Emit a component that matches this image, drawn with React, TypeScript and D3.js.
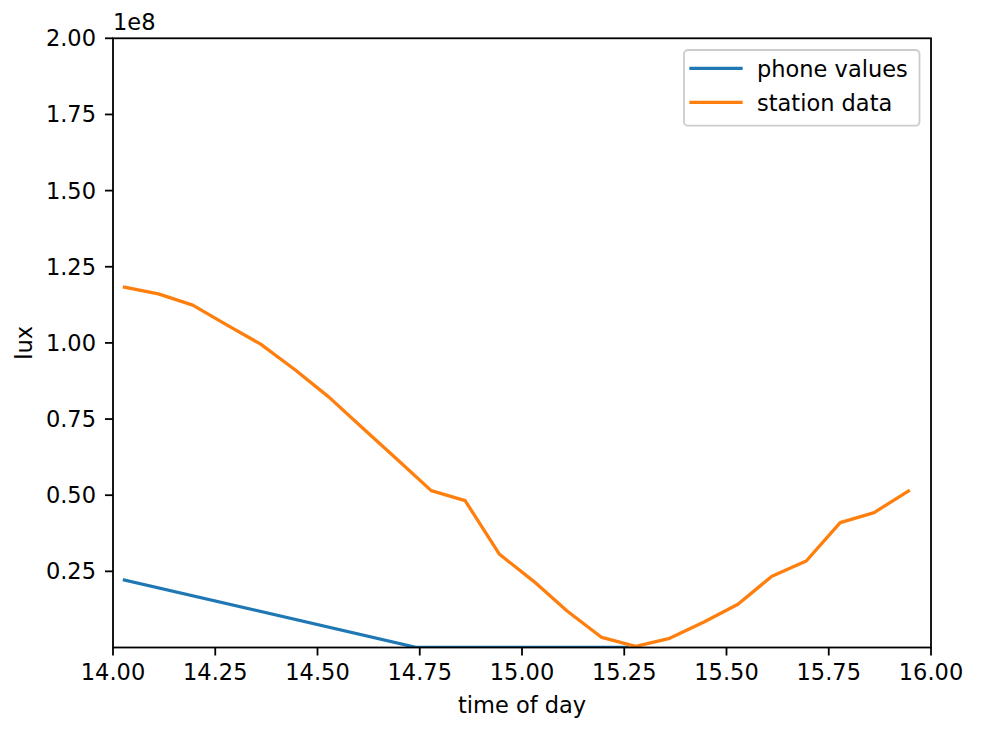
import React, { useEffect } from "react";
import * as d3 from "d3";

const stationTime = [14.028, 14.111, 14.195, 14.278, 14.361, 14.445, 14.528, 14.611, 14.695, 14.778, 14.861, 14.945, 15.028, 15.111, 15.195, 15.278, 15.361, 15.445, 15.528, 15.611, 15.695, 15.778, 15.861, 15.945];
const stationLux = [1.183e8, 1.161e8, 1.124e8, 1.059e8, 0.996e8, 0.912e8, 0.822e8, 0.72e8, 0.617e8, 0.515e8, 0.482e8, 0.306e8, 0.218e8, 0.119e8, 0.033e8, 0.004e8, 0.03e8, 0.084e8, 0.142e8, 0.234e8, 0.284e8, 0.41e8, 0.443e8, 0.514e8];
const phoneTime = [14.028, 14.743, 15.257];
const phoneLux = [0.2216e8, 0, 0];
const xTicks = [14.0, 14.25, 14.5, 14.75, 15.0, 15.25, 15.5, 15.75, 16.0];
const yTicks = [0.25e8, 0.5e8, 0.75e8, 1.0e8, 1.25e8, 1.5e8, 1.75e8, 2.0e8];
const seriesNames = ["phone values", "station data"];
const seriesColors = ["#1f77b4", "#ff7f0e"];

const W = 1004, H = 732;
const L = 113, R = 931, T = 38.3, B = 647.5;
const FONT = "DejaVu Sans, sans-serif";
const FS = 22.5;

export default function App() {
  useEffect(() => {
    document.body.style.margin = "0";
  }, []);
  const x = d3.scaleLinear().domain([14, 16]).range([L, R]);
  const y = d3.scaleLinear().domain([0, 2e8]).range([B, T]);
  const line = d3.line<number>();
  const mk = (xs: number[], ys: number[]) =>
    line(xs.map((t, i) => [x(t), y(ys[i])] as [number, number])) || "";
  const series = [
    { xs: phoneTime, ys: phoneLux },
    { xs: stationTime, ys: stationLux },
  ];
  return (
    <svg width={W} height={H} style={{ position: "absolute", left: 0, top: 0, background: "#fff" }} fontFamily={FONT}>
      <rect x={0} y={0} width={W} height={H} fill="#fff" />
      <defs>
        <clipPath id="plot">
          <rect x={L} y={T} width={R - L} height={B - T} />
        </clipPath>
      </defs>
      <g clipPath="url(#plot)">
        {series.map((s, i) => (
          <path key={i} d={mk(s.xs, s.ys)} fill="none" stroke={seriesColors[i]} strokeWidth={3.3} strokeLinejoin="round" strokeLinecap="square" />
        ))}
      </g>
      <rect x={L} y={T} width={R - L} height={B - T} fill="none" stroke="#000" strokeWidth={1.8} />
      {xTicks.map((t) => (
        <g key={"x" + t}>
          <line x1={x(t)} x2={x(t)} y1={B} y2={B + 8} stroke="#000" strokeWidth={1.8} />
          <text x={x(t)} y={680} textAnchor="middle" fontSize={FS} fill="#000">{t.toFixed(2)}</text>
        </g>
      ))}
      {yTicks.map((t) => (
        <g key={"y" + t}>
          <line x1={L - 8} x2={L} y1={y(t)} y2={y(t)} stroke="#000" strokeWidth={1.8} />
          <text x={96} y={y(t) + 8} textAnchor="end" fontSize={FS} fill="#000">{(t / 1e8).toFixed(2)}</text>
        </g>
      ))}
      <text x={113} y={30} fontSize={FS} fill="#000">1e8</text>
      <text x={(L + R) / 2} y={713} textAnchor="middle" fontSize={FS} fill="#000">time of day</text>
      <text transform={`translate(32,${(T + B) / 2}) rotate(-90)`} textAnchor="middle" fontSize={FS} fill="#000">lux</text>
      <g>
        <rect x={684} y={50} width={235.5} height={75.7} rx={4} ry={4} fill="#fff" fillOpacity={0.8} stroke="#cccccc" strokeWidth={1.8} />
        {seriesNames.map((n, i) => (
          <g key={n}>
            <line x1={691} x2={741} y1={68.3 + i * 34} y2={68.3 + i * 34} stroke={seriesColors[i]} strokeWidth={3.3} strokeLinecap="square" />
            <text x={757} y={76.5 + i * 34} fontSize={FS} fill="#000">{n}</text>
          </g>
        ))}
      </g>
    </svg>
  );
}
